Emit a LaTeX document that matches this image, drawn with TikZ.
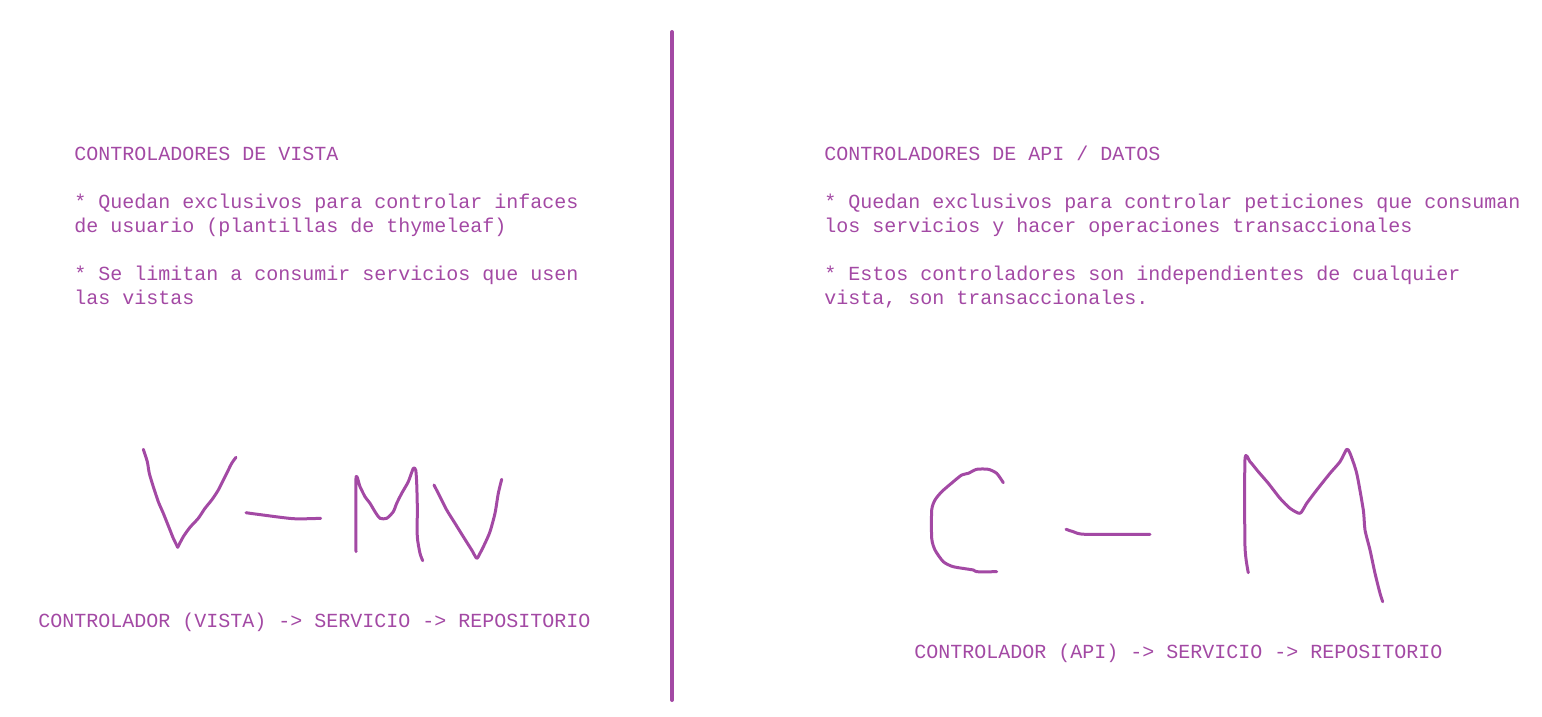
\documentclass[tikz,border=0pt]{standalone}
\usepackage{fontspec}
\setmonofont{Liberation Mono}
\usepackage{tikz}
\usetikzlibrary{positioning}
\definecolor{paintPurple}{RGB}{163, 73, 164}

\begin{document}
\begin{tikzpicture}[
                x=0.5pt, y=-0.5pt,
                note/.style={anchor=base west, inner sep=0pt, align=left, text=paintPurple, font=\ttfamily\fontsize{10}{12}\selectfont},
                stroke/.style={draw=paintPurple, line width=1.5pt, line cap=round, line join=round},
                divider/.style={draw=paintPurple, line width=2pt, line cap=round}
            ]

                \useasboundingbox (0,0) rectangle (1542,717);

                % --- DIVIDER ---
                \coordinate (div_top) at (672,32);
                \coordinate (div_bot) at (672,700);
                \draw[divider] (div_top) -- (div_bot);

                % --- VISTA (LEFT) ---
                \node[note] (v_text) at (74,304) {CONTROLADORES DE VISTA\\[12pt]
                    * Quedan exclusivos para controlar infaces\\
                    de usuario (plantillas de thymeleaf)\\[12pt]
                    * Se limitan a consumir servicios que usen\\
                    las vistas};
                \node[note] (v_flow) at (38,627) {CONTROLADOR (VISTA) -> SERVICIO -> REPOSITORIO};

                % Handwritten V - MV
                \draw[stroke] plot[smooth, tension=0.4] coordinates {(143.3,449.3) (147.3,461.7) (149.3,473.3) (153.3,486.7) (158.3,501.7) (163.3,513.3) (170,530) (173.3,538.3) (177.7,547.3)};
                \draw[stroke] plot[smooth, tension=0.4] coordinates {(177.7,547.3) (183.3,536.7) (190,527.3) (198.3,518.3) (205,508.3) (211.7,500) (218.3,490) (226.7,473.3) (231.7,463.3) (236,457.3)};
                \draw[stroke] plot[smooth, tension=0.4] coordinates {(246,512.7) (255.3,514) (293.3,518.7) (320.7,518.3)};
                \draw[stroke] plot[smooth, tension=0.4] coordinates {(356,551.7) (356,478.3) (360,486.7) (365,496.7) (370,503.3) (375,511.7) (380,518.3) (386.7,518.3) (393.3,511.7) (396.7,503.3) (401.7,493.3) (408.3,481.7) (413.3,468.3) (415.7,470) (416.7,483.3) (417.3,506.7) (417.3,536.7) (420,553.3) (422.7,560.7)};
                \draw[stroke] plot[smooth, tension=0.4] coordinates {(434,485) (440,496.7) (446.7,510) (455,523.3) (463.3,536.7) (471.7,550) (476.7,558.3) (480,553.3) (485,543.3) (490,531.7) (495,513.3) (498.3,493.3) (501.7,479.3)};

                % --- API (RIGHT) ---
                \node[note] (a_text) at (824,304) {CONTROLADORES DE API / DATOS\\[12pt]
                    * Quedan exclusivos para controlar peticiones que consuman\\
                    los servicios y hacer operaciones transaccionales\\[12pt]
                    * Estos controladores son independientes de cualquier\\
                    vista, son transaccionales.};
                \node[note] (a_flow) at (914,658) {CONTROLADOR (API) -> SERVICIO -> REPOSITORIO};

                % Handwritten C - M
                \draw[stroke] plot[smooth, tension=0.4] coordinates {(1003.3,482.7) (996.7,473.3) (988.3,469.3) (976.7,469.3) (968.3,473.3) (961.7,475) (953.3,481.7) (941.7,491.7) (935,500) (931.7,510) (931.7,538.3) (935,550) (943.3,561.7) (953.3,566.7) (973.3,570) (976.7,571.7) (996.7,571.7)};
                \draw[stroke] plot[smooth, tension=0.4] coordinates {(1066,529.3) (1073.3,531.7) (1085,534.3) (1150,534.3)};
                \draw[stroke] plot[smooth, tension=0.4] coordinates {(1248.3,572.7) (1245,546.7) (1245,459.3) (1250,461.7) (1258.3,471.7) (1268.3,483.3) (1280,498.3) (1290,508.3) (1300,513.3) (1306.7,503.3) (1316.7,490) (1330,473.3) (1340,461.7) (1346.7,449.3) (1350,453.3) (1356.7,473.3) (1363.3,510) (1365,530) (1370,550) (1375,573.3) (1380,593.3) (1382.7,601.7)};

                \end{tikzpicture}
\end{document}
